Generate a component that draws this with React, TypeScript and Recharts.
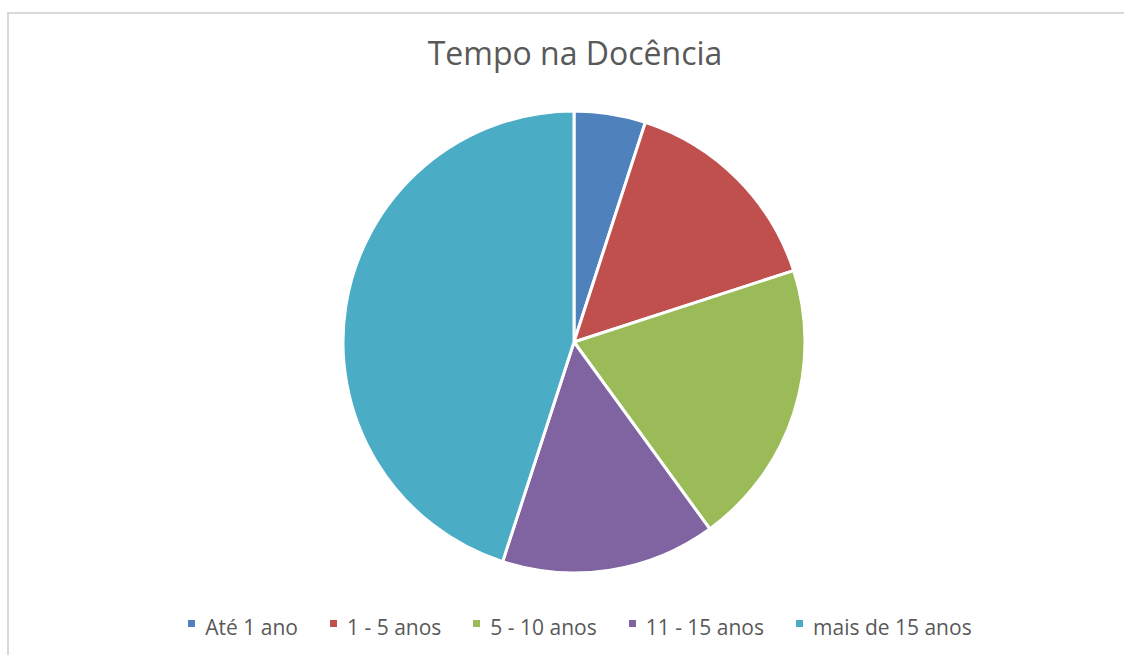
import { PieChart, Pie, Cell, Legend } from 'recharts'

const categories = ['Até 1 ano', '1 - 5 anos', '5 - 10 anos', '11 - 15 anos', 'mais de 15 anos']
const values = [1, 3, 4, 3, 9]
const colors = ['#4F81BD', '#C0504D', '#9BBB59', '#8064A2', '#4BACC6']

const data = categories.map((name, i) => ({ name, value: values[i] }))

const font = '"Open Sans", "Liberation Sans", sans-serif'

function LegendRow() {
  return (
    <div style={{ display: 'flex', justifyContent: 'center', alignItems: 'center', fontFamily: font, fontSize: 21, color: '#595959' }}>
      {categories.map((c, i) => (
        <div key={c} style={{ display: 'flex', alignItems: 'center', marginRight: i < categories.length - 1 ? 32 : 0 }}>
          <span style={{ width: 7, height: 7, background: colors[i], display: 'inline-block', marginRight: 10, marginTop: -7 }} />
          <span>{c}</span>
        </div>
      ))}
    </div>
  )
}

export default function App() {
  return (
    <div style={{ position: 'absolute', left: 0, top: 0, width: 1124, height: 655, background: '#fff', overflow: 'hidden' }}>
      <div style={{ position: 'absolute', left: 7, top: 12, right: -10, bottom: -10, borderLeft: '2px solid #D9D9D9', borderTop: '2px solid #D9D9D9' }} />
      <div style={{ position: 'absolute', left: 0, width: 1150, top: 31, textAlign: 'center', fontFamily: font, fontSize: 32, color: '#595959' }}>
        Tempo na Docência
      </div>
      <div style={{ position: 'absolute', left: 0, top: 0 }}>
        <PieChart width={1124} height={655} margin={{ top: 0, right: 0, bottom: 0, left: 0 }}>
          <Pie
            data={data}
            dataKey="value"
            nameKey="name"
            cx={574}
            cy={342}
            outerRadius={231}
            startAngle={90}
            endAngle={-270}
            stroke="#fff"
            strokeWidth={3}
            isAnimationActive={false}
          >
            {data.map((d, i) => (
              <Cell key={d.name} fill={colors[i]} />
            ))}
          </Pie>
          <Legend content={() => <LegendRow />} wrapperStyle={{ top: 613, left: 0, width: 1160 }} />
        </PieChart>
      </div>
    </div>
  )
}
